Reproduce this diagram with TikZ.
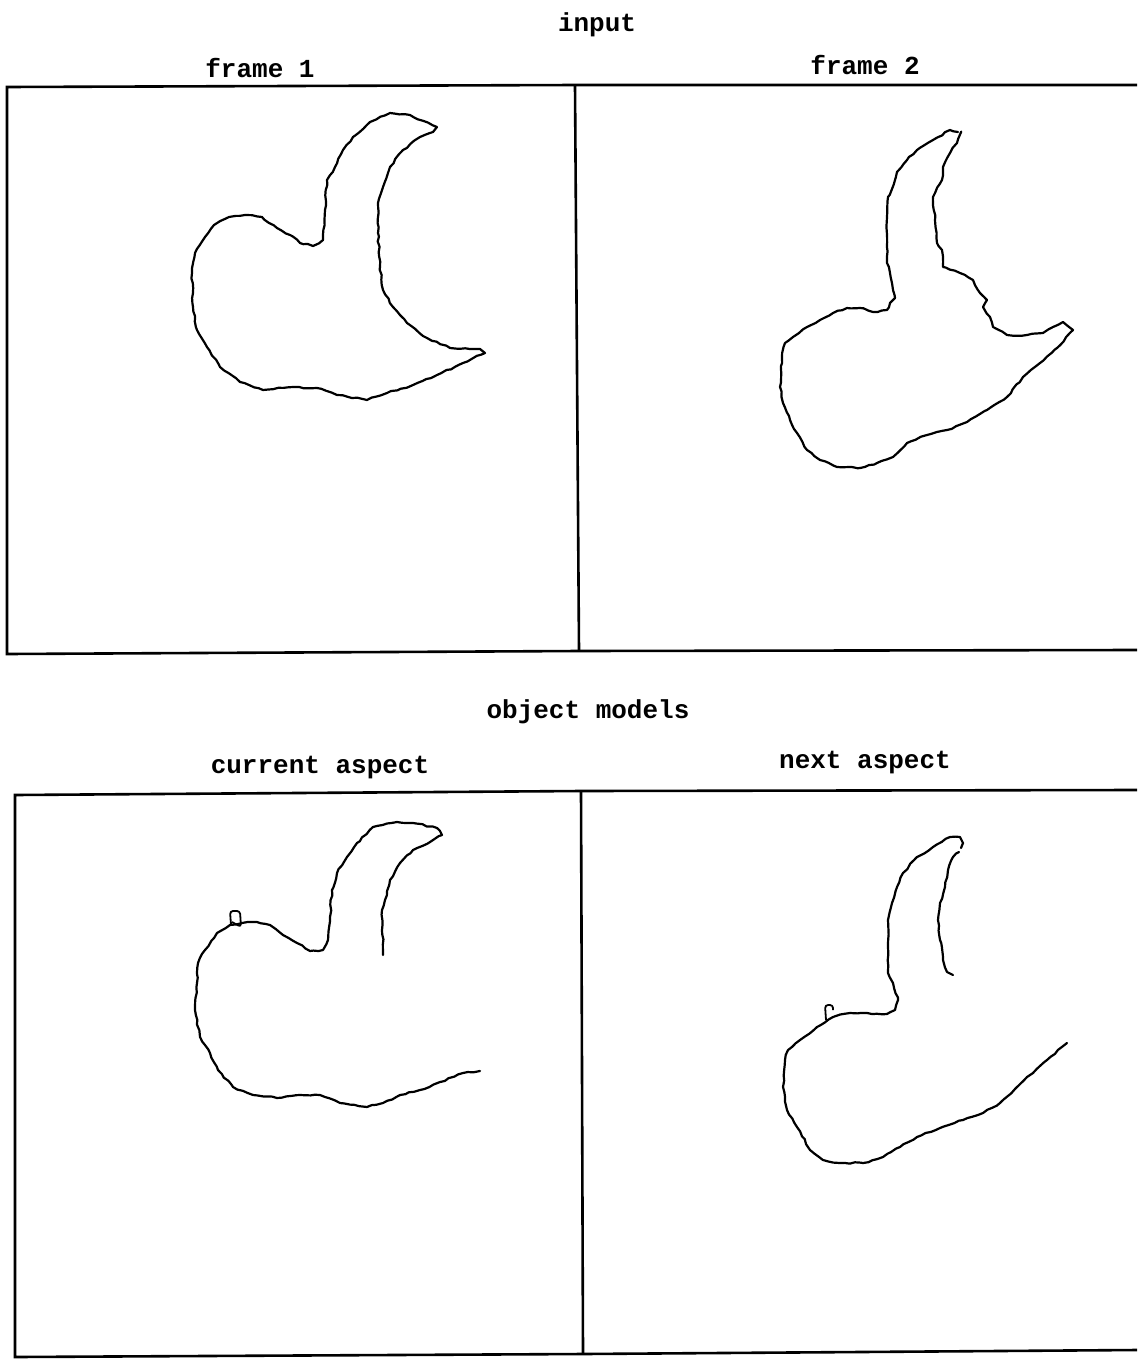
\documentclass[tikz,border=0pt]{standalone}
\usepackage{fontspec}
\setmonofont{Liberation Mono}
\usetikzlibrary{positioning,decorations.pathmorphing}

\begin{document}
\pgfmathsetseed{7}
\begin{tikzpicture}[x=1pt,y=-1pt,
                    every node/.style={font=\ttfamily\bfseries\fontsize{26}{30}\selectfont},
                    frame/.style={line width=2.6pt},
                    outline/.style={line width=2.2pt,line join=round,line cap=round,
                      decoration={random steps,segment length=5pt,amplitude=0.8pt},decorate}]
  \useasboundingbox (0,0) rectangle (1137,1359);

  % titles
  \node (input)   at (597,25)  {input};
  \node (frame1)  at (260,68)  {frame 1};
  \node (frame2)  at (865,65)  {frame 2};
  \node (models)  at (588,712) {object models};
  \node (current) at (320,768) {current aspect};
  \node (next)    at (865,763) {next aspect};

  % panels
  \draw[frame] (1137,85) -- (577,85) -- (7,87) -- (7,654) -- (579,651) -- (1137,650);
  \draw[frame] (575,86) -- (579,651);
  \draw[frame] (1137,790) -- (581,791) -- (15,795) -- (15,1357) -- (583,1354) -- (1137,1350);
  \draw[frame] (581,791) -- (583,1354);

  % frame 1
  \draw[outline] plot coordinates {
    (437,127) (410,115) (390,113) (370,122) (353,137) (343,150) (335,167) (327,180)
    (325,210) (323,240) (313,246) (300,243) (290,235) (277,228) (262,217) (245,215)
    (229,217) (214,225) (205,237) (195,253) (192,273) (193,307) (197,330) (207,347) (220,367)
    (240,382) (263,390) (293,387) (317,388) (337,395) (367,400) (387,393) (413,385)
    (437,375) (463,363) (485,353) (480,349) (450,348) (427,338) (407,323) (393,307)
    (383,290) (380,267) (378,233) (378,203) (383,187) (390,167) (403,150) (420,137)
    (433,132) (437,127)};

  % frame 2
  \draw[outline] plot coordinates {
    (958,132) (950,130) (933,140) (917,150) (907,160) (897,172) (895,180) (888,197)
    (887,217) (887,263) (890,273) (893,290) (895,298) (890,303) (887,310) (873,312)
    (860,308) (847,308) (833,313) (820,320) (807,327) (793,337) (785,343) (782,357)
    (780,387) (783,403) (790,420) (797,433) (807,450) (820,460) (837,467) (860,468)
    (877,463) (893,457) (907,443) (927,435) (947,430) (967,422) (987,410) (1007,397)
    (1023,377) (1040,363) (1057,348) (1073,330) (1063,322) (1053,327) (1043,333)
    (1027,335) (1007,335) (993,327) (990,317) (983,307) (987,300) (980,293) (973,280)
    (960,273) (943,267) (942,250) (937,243) (935,220) (933,197) (942,180) (943,167)
    (950,153) (957,143) (960,135) (958,132)};

  % current aspect
  \draw[outline] plot coordinates {
    (383,955) (382,910) (385,900) (390,880) (400,863) (413,850) (430,842) (442,835)
    (437,828) (413,823) (397,822) (373,827) (357,843) (347,857) (337,873) (332,890)
    (330,917) (328,940) (323,950) (310,951) (297,943) (283,935) (270,925) (257,922)
    (242,923) (230,925) (217,933) (205,950) (198,963) (197,983) (195,1010) (200,1037)
    (210,1053) (218,1070) (233,1087) (253,1095) (277,1098) (300,1095) (320,1095)
    (340,1103) (367,1107) (383,1103) (400,1095) (420,1090) (440,1082) (463,1073)
    (480,1071)};
  \draw[line width=1.8pt,line join=round,rounded corners=3pt]
    (231,925) -- (230,911) -- (240,911) -- (241,927) -- (232,922);

  % next aspect
  \draw[outline] plot coordinates {
    (953,975) (947,972) (943,960) (942,948) (940,940) (938,920) (940,903) (945,887)
    (948,870) (953,857) (959,852)};
  \draw[outline] plot coordinates {
    (961,848) (963,843) (960,837) (950,837) (933,847) (917,857) (903,873) (897,887)
    (892,903) (888,920) (888,973) (893,983) (898,1000) (895,1010) (887,1014)
    (867,1013) (850,1013) (833,1017) (817,1027) (800,1040) (788,1050) (785,1060)
    (783,1087) (787,1110) (797,1127) (810,1150) (823,1160) (840,1163) (863,1163)
    (883,1157) (900,1147) (917,1137) (940,1128) (963,1120) (983,1113) (1000,1103)
    (1017,1087) (1027,1077) (1033,1073) (1047,1060) (1067,1043)};
  \draw[line width=1.8pt,line join=round,rounded corners=3pt]
    (826,1020) -- (825,1005) -- (833,1005) -- (833,1010);
\end{tikzpicture}
\end{document}
